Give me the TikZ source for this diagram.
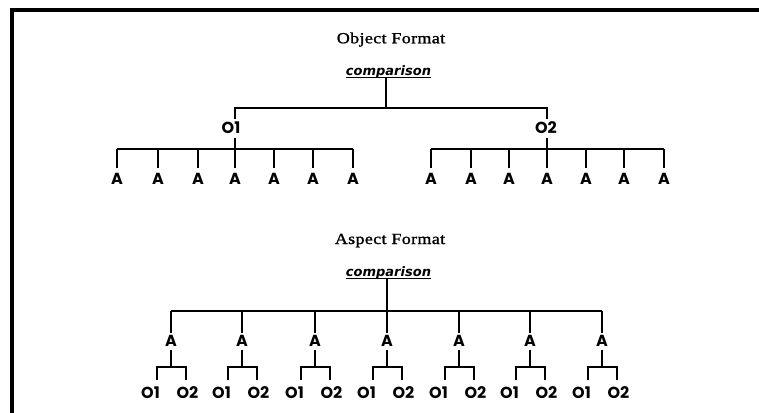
\documentclass[tikz,border=0pt]{standalone}
\usepackage{fontspec}
\newfontfamily\lblfont{Poppins}
\newfontfamily\cmpfont{DejaVu Sans}
\newfontfamily\ttlfont[LetterSpace=2,FakeBold=1.2]{Liberation Serif}
\newcommand\widetext[1]{\scalebox{1.16}[1]{#1}}
\tikzset{
  ln/.style={line width=2pt},
  frame/.style={line width=4pt},
  lbl/.style={inner sep=0pt, font=\lblfont\bfseries\fontsize{16}{16}\selectfont},
  ttl/.style={inner sep=0pt, anchor=base, font=\ttlfont\fontsize{15.5}{15.5}\selectfont},
  cmp/.style={inner sep=0pt, anchor=base, font=\cmpfont\bfseries\itshape\fontsize{13}{13}\selectfont},
  uline/.style={line width=1.6pt}
}
\begin{document}
\begin{tikzpicture}[x=1pt,y=-1pt]
\useasboundingbox (0,0) rectangle (759,412);
% frame
\draw[frame] (12,414) -- (12,10) -- (761,10);

% ---------- Object Format ----------
\node[ttl] (t1) at (391,43.3) {\widetext{Object Format}};
\node[cmp] (c1) at (388.5,75.5) {comparison};
\draw[uline] ([yshift=-2pt]c1.base west) -- ([yshift=-2pt]c1.base east);
\coordinate (m1) at (386,108);
\coordinate (h1) at (0,149);
\node[lbl] (o1) at (231,128) {O1};
\node[lbl] (o2) at (546,128) {O2};
\foreach \x [count=\i] in {117,158,198,235,274,313,353}
  \node[lbl] (la\i) at (\x,178.5) {A};
\foreach \x [count=\i] in {431,471,509,547,586,624,664}
  \node[lbl] (ra\i) at (\x,178.5) {A};
\draw[ln] (c1.south -| m1) -- (m1);
\draw[ln, shorten <=3pt, shorten >=3pt] (la4 |- o1.north) -- (la4 |- m1) -- (ra4 |- m1) -- (ra4 |- o2.north);
\draw[ln] (la1 |- h1) -- (la7 |- h1);
\draw[ln] (ra1 |- h1) -- (ra7 |- h1);
\foreach \i in {1,...,7} {
  \draw[ln, shorten >=5pt] (la\i |- h1) -- (la\i.north);
  \draw[ln, shorten >=5pt] (ra\i |- h1) -- (ra\i.north);
}
\draw[ln, shorten <=4pt] (la4 |- o1.south) -- (la4 |- h1);
\draw[ln, shorten <=4pt] (ra4 |- o2.south) -- (ra4 |- h1);

% ---------- Aspect Format ----------
\node[ttl] (t2) at (390,244) {\widetext{Aspect Format}};
\node[cmp] (c2) at (388.5,276.5) {comparison};
\draw[uline] ([yshift=-2pt]c2.base west) -- ([yshift=-2pt]c2.base east);
\coordinate (m2) at (387,311);
\coordinate (b) at (0,367);
\foreach \x [count=\i] in {171,242,315,387,459,530,602} {
  \node[lbl] (aa\i) at (\x,341) {A};
  \node[lbl] (ao\i) at ({\x-20.5},392.5) {O1};
  \node[lbl] (ap\i) at ({\x+16.5},392.5) {O2};
}
\draw[ln] (c2.south -| m2) -- (m2);
\draw[ln] (aa1 |- m2) -- (aa7 |- m2);
\foreach \i in {1,...,7} {
  \draw[ln, shorten >=2pt] (aa\i |- m2) -- (aa\i.north);
  \draw[ln, shorten <=3pt] (aa\i.south) -- (aa\i |- b);
  \draw[ln, shorten <=6pt, shorten >=6pt] ([xshift=6pt]ao\i.north) |- (aa\i |- b) -| ([xshift=-2pt]ap\i.north);
}
\end{tikzpicture}
\end{document}
